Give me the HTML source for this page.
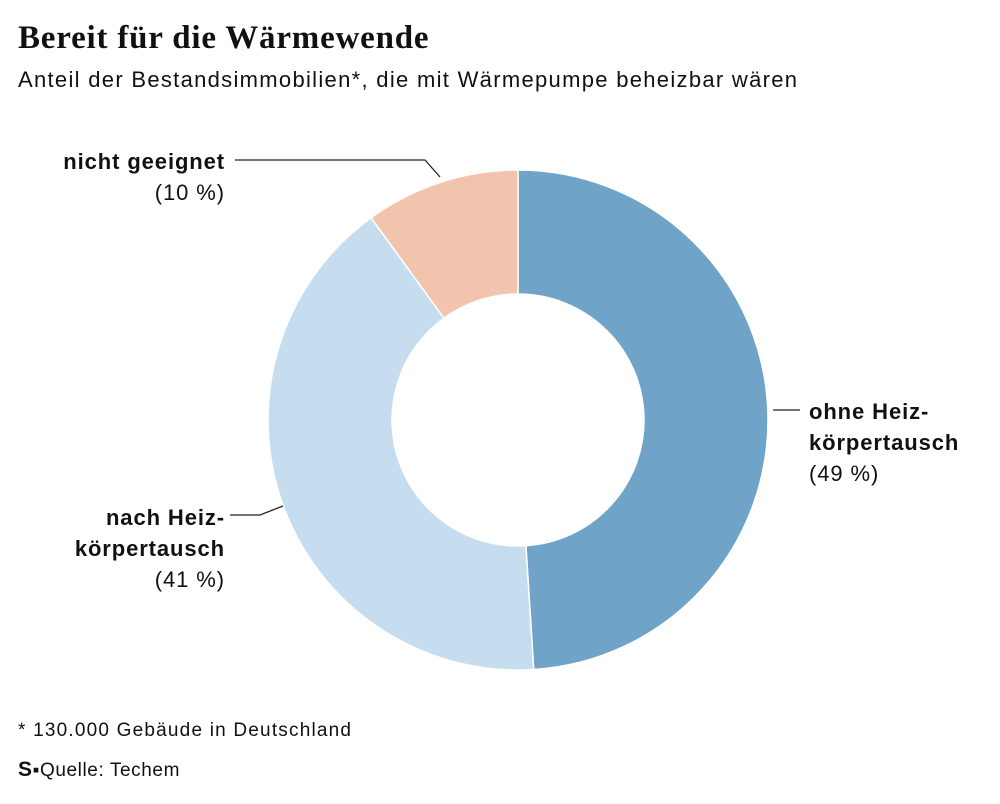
<!DOCTYPE html>
<html><head><meta charset="utf-8"><style>
body{margin:0;width:1000px;height:804px;background:#fff;font-family:"Liberation Sans",sans-serif;color:#111;position:relative;overflow:hidden}
.t{position:absolute;white-space:nowrap}
</style></head><body>
<div class="t" style="left:18px;top:20px;font-family:'Liberation Serif',serif;font-weight:bold;font-size:33px;letter-spacing:0.8px">Bereit für die Wärmewende</div>
<div class="t" style="left:18px;top:67px;font-size:22px;letter-spacing:1.3px">Anteil der Bestandsimmobilien*, die mit Wärmepumpe beheizbar wären</div>
<svg id="chart" width="1000" height="804" style="position:absolute;left:0;top:0"></svg>
<div class="t" style="left:18px;top:720px;font-size:19px;letter-spacing:1.2px">* 130.000 Gebäude in Deutschland</div>
<div class="t" style="left:18px;top:758px;font-size:19px;letter-spacing:0.6px"><b style="font-size:21px">S</b>▪Quelle: Techem</div>
<script>
const categories=["ohne Heiz-körpertausch","nach Heiz-körpertausch","nicht geeignet"];
const values=[49,41,10];
const colors=["#6fa3c8","#c5ddee","#f2c4ae"];
const svg=document.getElementById('chart');
const NS='http://www.w3.org/2000/svg';
const cx=518,cy=420,R=250,r=126;
const total=values.reduce((a,b)=>a+b,0);
function pt(a,rad){return [cx+rad*Math.sin(a),cy-rad*Math.cos(a)];}
let acc=0;
values.forEach((v,i)=>{
 const a0=acc/total*2*Math.PI; acc+=v; const a1=acc/total*2*Math.PI;
 const lg=(a1-a0)>Math.PI?1:0;
 const [x0,y0]=pt(a0,R),[x1,y1]=pt(a1,R),[x2,y2]=pt(a1,r),[x3,y3]=pt(a0,r);
 const p=document.createElementNS(NS,'path');
 p.setAttribute('d',`M${x0},${y0}A${R},${R} 0 ${lg} 1 ${x1},${y1}L${x2},${y2}A${r},${r} 0 ${lg} 0 ${x3},${y3}Z`);
 p.setAttribute('fill',colors[i]);p.setAttribute('stroke','#fff');p.setAttribute('stroke-width','1.5');
 
 
 svg.appendChild(p);
});
function line(pts,name){const l=document.createElementNS(NS,'polyline');l.setAttribute('points',pts);l.setAttribute('fill','none');l.setAttribute('stroke','#222');l.setAttribute('stroke-width','1.3');
 
 
 svg.appendChild(l);}
line("773,410 800,410","leader-ohne");
line("283,506 260,515 230,515","leader-nach");
line("235,160 425,160 440,177","leader-nicht");
function label(lines,x,y,anchor,name){
 const t=document.createElementNS(NS,'text');t.setAttribute('x',x);t.setAttribute('y',y);t.setAttribute('text-anchor',anchor);
 t.setAttribute('font-family','Liberation Sans, sans-serif');t.setAttribute('font-size','22');t.setAttribute('fill','#111');t.setAttribute('letter-spacing','0.9');
 
 
 lines.forEach((s,k)=>{const sp=document.createElementNS(NS,'tspan');sp.setAttribute('x',x);sp.setAttribute('dy',k?31:0);if(s[1])sp.setAttribute('font-weight','bold');sp.textContent=s[0];t.appendChild(sp);});
 svg.appendChild(t);}
label([["ohne Heiz-",1],["körpertausch",1],["("+values[0]+" %)",0]],809,419,'start','label-ohne');
label([["nach Heiz-",1],["körpertausch",1],["("+values[1]+" %)",0]],225,525,'end','label-nach');
label([["nicht geeignet",1],["("+values[2]+" %)",0]],225,169,'end','label-nicht');
</script>
</body></html>
